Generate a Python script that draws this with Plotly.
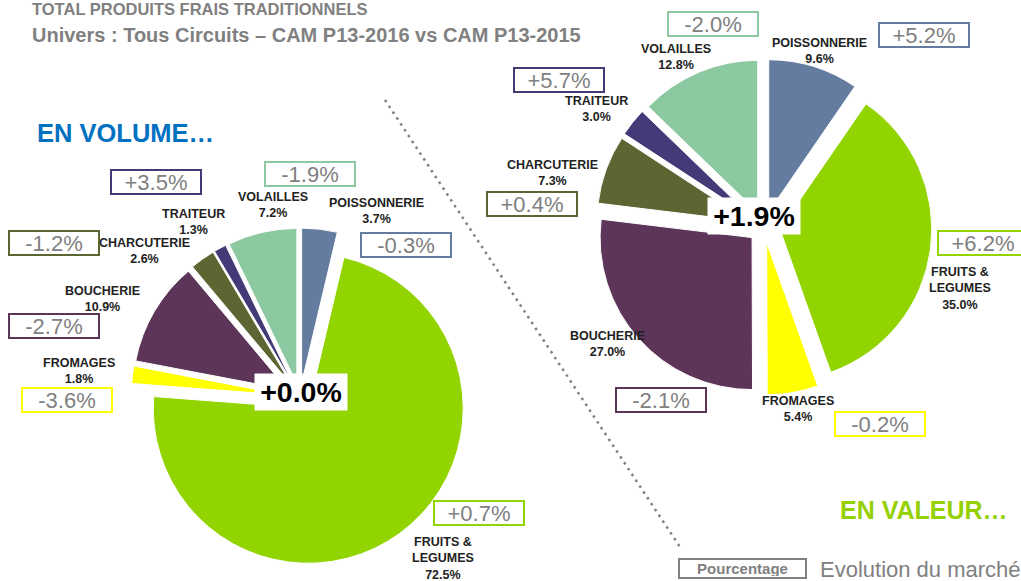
import plotly.graph_objects as go

W, H = 1021, 581

# ---------------- data ----------------
categories = ["POISSONNERIE", "FRUITS &<br>LEGUMES", "FROMAGES", "BOUCHERIE",
              "CHARCUTERIE", "TRAITEUR", "VOLAILLES"]
volume_share = [3.7, 72.5, 1.8, 10.9, 2.6, 1.3, 7.2]
volume_evol = [-0.3, 0.7, -3.6, -2.7, -1.2, 3.5, -1.9]
value_share = [9.6, 35.0, 5.4, 27.0, 7.3, 3.0, 12.8]
value_evol = [5.2, 6.2, -0.2, -2.1, 0.4, 5.7, -2.0]
total_evol = [0.0, 1.9]

# ---------------- styles / layout positions (pixels) ----------------
colors = ["#647CA0", "#92D400", "#FFFF00", "#5C3558", "#5C6632", "#433B78", "#8CC8A0"]
vol_label_pos = [(376, 211), (443, 558), (79, 371), (102, 299), (144, 251), (193, 222), (273, 205)]
vol_box_pos = [(406, 245), (479, 513), (67, 400), (54, 326), (54, 243), (156, 182), (310, 174)]
val_label_pos = [(819, 51), (960, 288), (798, 409), (607, 344), (552, 173), (596, 109), (676, 57)]
val_box_pos = [(924, 35), (983, 243), (880, 424), (661, 400), (532, 204), (559, 80), (713, 24)]
center_pos = [(301, 392), (754, 216)]
FONT = "Arial, Liberation Sans, sans-serif"
GRAY = "#808080"


def px(x):
    return x / W


def py(y):
    return 1 - y / H


def dom(cx, cy, r, pull):
    half = r * (1 + pull)
    return dict(x=[px(cx - half), px(cx + half)], y=[py(cy + half), py(cy - half)])


fig = go.Figure()
fig.add_trace(go.Pie(
    labels=[c.replace("<br>", " ") for c in categories], values=volume_share,
    sort=False, direction="clockwise", rotation=0, textinfo="none",
    marker=dict(colors=colors, line=dict(color="white", width=1)),
    pull=[0.09] * len(volume_share), domain=dom(300, 397, 155, 0.09),
    showlegend=False, name="Volume"))
fig.add_trace(go.Pie(
    labels=[c.replace("<br>", " ") for c in categories], values=value_share,
    sort=False, direction="clockwise", rotation=0, textinfo="none",
    marker=dict(colors=colors, line=dict(color="white", width=1)),
    pull=[0.105] * len(value_share), domain=dom(764, 227, 152, 0.105),
    showlegend=False, name="Valeur"))

ann = []


def add_label(pos, cat, share):
    ann.append(dict(x=px(pos[0]), y=py(pos[1]), xref="paper", yref="paper",
                    text=f"<b>{cat}<br>{share:.1f}%</b>", showarrow=False,
                    font=dict(family=FONT, size=12.5, color="#222222"),
                    xanchor="center", yanchor="middle", align="center"))


def add_box(pos, ev, color):
    ann.append(dict(x=px(pos[0]), y=py(pos[1]), xref="paper", yref="paper",
                    text=f"{ev:+.1f}%", showarrow=False,
                    font=dict(family=FONT, size=22, color=GRAY),
                    xanchor="center", yanchor="middle", align="center",
                    width=86, height=20, bordercolor=color, borderwidth=2,
                    borderpad=1, bgcolor="white"))


for i, c in enumerate(categories):
    add_label(vol_label_pos[i], c, volume_share[i])
    add_box(vol_box_pos[i], volume_evol[i], colors[i])
    add_label(val_label_pos[i], c, value_share[i])
    add_box(val_box_pos[i], value_evol[i], colors[i])

for pos, ev in zip(center_pos, total_evol):
    ann.append(dict(x=px(pos[0]), y=py(pos[1]), xref="paper", yref="paper",
                    text=f"<b>{ev:+.1f}%</b>", showarrow=False,
                    font=dict(family=FONT, size=28.5, color="black"),
                    xanchor="center", yanchor="middle", bgcolor="white",
                    width=88, height=32, borderpad=2))

# titles
ann.append(dict(x=px(30), y=py(9), xref="paper", yref="paper", showarrow=False,
                text="<b>TOTAL PRODUITS FRAIS TRADITIONNELS</b>", xanchor="left", yanchor="middle",
                font=dict(family=FONT, size=16.5, color=GRAY)))
ann.append(dict(x=px(30), y=py(35), xref="paper", yref="paper", showarrow=False,
                text="<b>Univers : Tous Circuits – CAM P13-2016 vs CAM P13-2015</b>",
                xanchor="left", yanchor="middle", font=dict(family=FONT, size=20, color=GRAY)))
ann.append(dict(x=px(35), y=py(133), xref="paper", yref="paper", showarrow=False,
                text="<b>EN VOLUME…</b>", xanchor="left", yanchor="middle",
                font=dict(family=FONT, size=25.5, color="#0070C0")))
ann.append(dict(x=px(838), y=py(510), xref="paper", yref="paper", showarrow=False,
                text="<b>EN VALEUR…</b>", xanchor="left", yanchor="middle",
                font=dict(family=FONT, size=25, color="#95D000")))
# legend
ann.append(dict(x=px(742), y=py(568), xref="paper", yref="paper", showarrow=False,
                text="<b>Pourcentage</b>", xanchor="center", yanchor="middle",
                font=dict(family=FONT, size=15, color=GRAY), width=123, height=15,
                bordercolor=GRAY, borderwidth=2, borderpad=1))
ann.append(dict(x=px(818), y=py(569), xref="paper", yref="paper", showarrow=False,
                text="Evolution du marché", xanchor="left", yanchor="middle",
                font=dict(family=FONT, size=22, color=GRAY)))

shapes = [dict(type="line", xref="paper", yref="paper", x0=px(385), y0=py(100),
               x1=px(680), y1=py(547), line=dict(color=GRAY, width=2.5, dash="2.5px,4.5px"))]

fig.update_layout(width=W, height=H, margin=dict(l=0, r=0, t=0, b=0),
                  paper_bgcolor="white", plot_bgcolor="white",
                  annotations=ann, shapes=shapes)
fig.write_html("out.html", config={"displayModeBar": False},
               post_script="document.body.style.margin='0px';document.body.style.overflow='hidden';")
